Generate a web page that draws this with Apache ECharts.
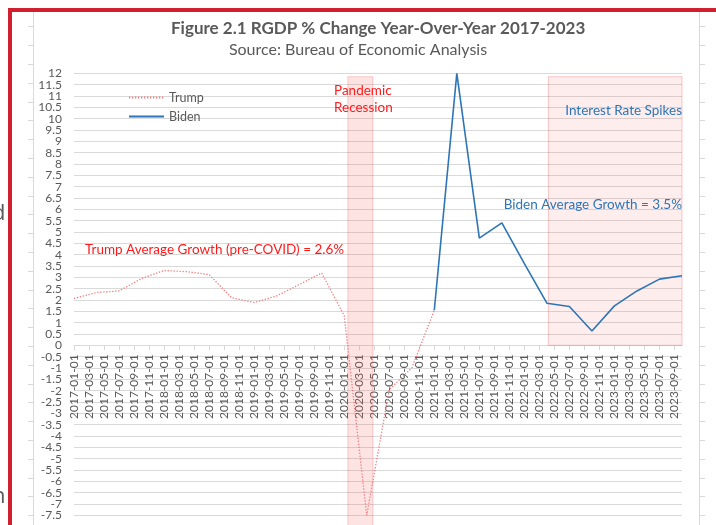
<!DOCTYPE html>
<html><head><meta charset="utf-8">
<script src="https://cdn.jsdelivr.net/npm/echarts@6/dist/echarts.min.js"></script>
<style>html,body{margin:0;padding:0;background:#fff}#c{width:716px;height:525px}</style>
</head><body><div id="c"></div>
<script>
// ---- data ----
const axisStartDate = '2017-01-01';
const axisEndDate = '2023-10-01';
const trumpDates = ['2017-01-01','2017-04-01','2017-07-01','2017-10-01','2018-01-01','2018-04-01','2018-07-01','2018-10-01',
  '2019-01-01','2019-04-01','2019-07-01','2019-10-01','2020-01-01','2020-04-01','2020-07-01','2020-10-01','2021-01-01'];
const trumpValues = [2.07, 2.33, 2.4, 2.95, 3.3, 3.25, 3.12, 2.1, 1.89, 2.18, 2.68, 3.19, 1.3, -7.5, -1.95, -1.0, 1.55];
const bidenDates = ['2021-01-01','2021-04-01','2021-07-01','2021-10-01','2022-01-01','2022-04-01','2022-07-01','2022-10-01',
  '2023-01-01','2023-04-01','2023-07-01','2023-10-01'];
const bidenValues = [1.55, 12.0, 4.73, 5.4, 3.6, 1.86, 1.71, 0.63, 1.74, 2.4, 2.92, 3.07];
const yMin = -8, yMax = 12, yStep = 0.5;
const pandemicBand = {from: '2020-01-16', to: '2020-04-26', bottom: -8, top: 11.85};
const rateBand = {from: '2022-04-07', to: '2023-10-01', bottom: 0, top: 11.85};
const titleText = 'Figure 2.1 RGDP % Change Year-Over-Year 2017-2023';
const subtitleText = 'Source: Bureau of Economic Analysis';

// ---- helpers ----
function monthIndex(s) {
  const [y, m, d] = s.split('-').map(Number);
  const dim = new Date(y, m, 0).getDate();
  const [y0, m0] = axisStartDate.split('-').map(Number);
  return (y - y0) * 12 + (m - m0) + (d - 1) / dim;
}
function idxToLabel(i) {
  const [y0, m0] = axisStartDate.split('-').map(Number);
  const t = m0 - 1 + i;
  const y = y0 + Math.floor(t / 12), m = t % 12 + 1;
  return y + '-' + String(m).padStart(2, '0') + '-01';
}
const FONT = 'Lato';
const GREY = '#595959';
const BLUE = '#2e75b6';
const RED = '#ff1a1a';
const W = 716, H = 525;
const GRID = {left: 74, right: 34, top: 73.3, bottom: -1.7};
const gridHeight = H - GRID.top - GRID.bottom;
// place the date axis where the value axis crosses zero
const zeroOffset = -(0 - yMin) / (yMax - yMin) * gridHeight;

const chart = echarts.init(document.getElementById('c'), null, {renderer: 'canvas'});

const rowTicks = [];
for (let y = 26.4; y < H; y += 18.8) {
  rowTicks.push({type: 'line', silent: true, shape: {x1: 28, y1: Math.round(y) + 0.5, x2: 33, y2: Math.round(y) + 0.5}, style: {stroke: '#d9d9d9', lineWidth: 1}});
  rowTicks.push({type: 'line', silent: true, shape: {x1: 699, y1: Math.round(y) + 0.5, x2: 705, y2: Math.round(y) + 0.5}, style: {stroke: '#d9d9d9', lineWidth: 1}});
}

const yLabelStyle = {margin: 12, hideOverlap: false, fontFamily: FONT, fontSize: 12, color: GREY};

chart.setOption({
  animation: false,
  backgroundColor: '#ffffff',
  title: [
    {text: titleText, left: 171, top: 20, padding: 0, textStyle: {fontFamily: FONT, fontSize: 17, fontWeight: 'bold', color: GREY}},
    {text: subtitleText, left: 'center', top: 42, padding: 0, textStyle: {fontFamily: FONT, fontSize: 16, fontWeight: 'normal', color: GREY}}
  ],
  grid: Object.assign({containLabel: false, outerBoundsMode: 'none'}, GRID),
  legend: {
    orient: 'vertical', left: 128, top: 91, padding: 0, itemWidth: 35, itemHeight: 10, itemGap: 6,
    itemStyle: {opacity: 0},
    textStyle: {fontFamily: FONT, fontSize: 12.5, color: GREY},
    data: ['Trump', 'Biden']
  },
  xAxis: {
    type: 'value', min: 0, max: monthIndex(axisEndDate), interval: 2,
    position: 'bottom', offset: zeroOffset,
    axisLine: {onZero: false, lineStyle: {color: '#d9d9d9'}},
    axisTick: {show: true, length: 5, lineStyle: {color: '#d9d9d9'}},
    splitLine: {show: false},
    axisLabel: {
      rotate: 90, margin: 9, showMinLabel: true, showMaxLabel: false, hideOverlap: false,
      fontFamily: FONT, fontSize: 12, color: GREY,
      formatter: v => (Math.abs(v - Math.round(v)) < 1e-6 && Math.round(v) % 2 === 0) ? idxToLabel(Math.round(v)) : ''
    }
  },
  yAxis: [
    {
      type: 'value', min: yMin, max: yMax, interval: yStep,
      axisLine: {show: false, onZero: false}, axisTick: {show: false},
      splitLine: {lineStyle: {color: '#d9d9d9', width: 1}},
      axisLabel: Object.assign({showMinLabel: false, showMaxLabel: false, formatter: v => String(v)}, yLabelStyle)
    },
    {
      // carries only the top tick label, which the first axis drops when labels crowd
      type: 'value', min: yMin, max: yMax, interval: yStep, position: 'left',
      axisLine: {show: false, onZero: false}, axisTick: {show: false}, splitLine: {show: false},
      axisLabel: Object.assign({showMinLabel: false, showMaxLabel: true, formatter: v => (v === yMax ? String(v) : '')}, yLabelStyle)
    }
  ],
  series: [
    {
      name: 'Trump', type: 'line', symbol: 'none', z: 3, yAxisIndex: 0,
      data: trumpDates.map((d, i) => [monthIndex(d), trumpValues[i]]),
      lineStyle: {color: '#f47a7d', width: 1.3, type: [1.3, 1.7]},
      itemStyle: {color: '#f47a7d'}
    },
    {
      name: 'Biden', type: 'line', symbol: 'none', z: 4, yAxisIndex: 0,
      data: bidenDates.map((d, i) => [monthIndex(d), bidenValues[i]]),
      lineStyle: {color: BLUE, width: 1.6},
      itemStyle: {color: BLUE},
      markArea: {
        silent: true,
        data: [
          [{xAxis: monthIndex(pandemicBand.from), yAxis: pandemicBand.bottom, itemStyle: {color: 'rgba(248,90,90,0.17)', borderColor: 'rgba(240,80,80,0.25)', borderWidth: 1}},
           {xAxis: monthIndex(pandemicBand.to), yAxis: pandemicBand.top}],
          [{xAxis: monthIndex(rateBand.from), yAxis: rateBand.bottom, itemStyle: {color: 'rgba(250,110,110,0.12)', borderColor: 'rgba(240,80,80,0.3)', borderWidth: 1}},
           {xAxis: monthIndex(rateBand.to), yAxis: rateBand.top}]
        ]
      }
    }
  ],
  graphic: [
    {type: 'rect', silent: true, z: 50, shape: {x: 8, y: 8, width: 708, height: 4}, style: {fill: '#d11f2f'}},
    {type: 'rect', silent: true, z: 50, shape: {x: 8, y: 8, width: 4, height: 517}, style: {fill: '#d11f2f'}},
    {type: 'line', silent: true, shape: {x1: 33.5, y1: 12, x2: 33.5, y2: H}, style: {stroke: '#d9d9d9', lineWidth: 1}},
    {type: 'line', silent: true, shape: {x1: 699.5, y1: 12, x2: 699.5, y2: H}, style: {stroke: '#d9d9d9', lineWidth: 1}},
    ...rowTicks,
    {type: 'text', silent: true, left: -8, top: 203, style: {text: 'd', fontFamily: 'Open Sans', fontSize: 22, fill: '#595959'}},
    {type: 'text', silent: true, left: -8, top: 486, style: {text: 'n', fontFamily: 'Open Sans', fontSize: 22, fill: '#595959'}},
    {type: 'text', silent: true, z: 50, left: 85, top: 243, style: {text: 'Trump Average Growth (pre-COVID) = 2.6%', fontFamily: FONT, fontSize: 13.5, fill: RED}},
    {type: 'text', silent: true, z: 50, left: 334, top: 82, style: {text: 'Pandemic\nRecession', lineHeight: 17, fontFamily: FONT, fontSize: 13.5, fill: RED}},
    {type: 'text', silent: true, z: 50, right: 34, top: 104, style: {text: 'Interest Rate Spikes', fontFamily: FONT, fontSize: 13.5, fill: BLUE}},
    {type: 'text', silent: true, z: 50, right: 34, top: 198, style: {text: 'Biden Average Growth = 3.5%', fontFamily: FONT, fontSize: 13.5, fill: BLUE}}
  ]
});
</script></body></html>
